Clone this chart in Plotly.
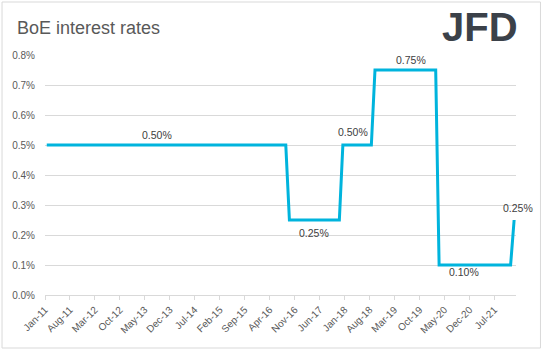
import pandas as pd
import plotly.graph_objects as go

# ---- data ----
change_months = ["2011-01", "2016-08", "2016-09", "2017-11", "2017-12", "2018-08",
                 "2018-09", "2020-02", "2020-03", "2021-11", "2021-12"]
rates = [0.50, 0.50, 0.25, 0.25, 0.50, 0.50, 0.75, 0.75, 0.10, 0.10, 0.25]

tick_labels = ["Jan-11", "Aug-11", "Mar-12", "Oct-12", "May-13", "Dec-13", "Jul-14",
               "Feb-15", "Sep-15", "Apr-16", "Nov-16", "Jun-17", "Jan-18", "Aug-18",
               "Mar-19", "Oct-19", "May-20", "Dec-20", "Jul-21"]

label_months = ["2013-08", "2017-04", "2018-03", "2019-07", "2020-10", "2021-12"]
label_values = [0.50, 0.25, 0.50, 0.75, 0.10, 0.25]

# ---- styling ----
label_yshift = [10, -13, 13, 10, -7, 12]
label_xshift = [0, 0, 0, 0, 0, 4]

W, H = 544, 351
L, R, T, B = 45, 27.5, 55, 56
PW, PH = W - L - R, H - T - B

def px_x(px):
    return (px - L) / PW

def px_y(py):
    return (H - B - py) / PH

mid = pd.Timedelta(days=15)
x_line = pd.to_datetime(change_months) + mid
x_labels = pd.to_datetime(label_months) + mid
tick_vals = pd.date_range("2011-01-01", periods=len(tick_labels), freq="7MS")

fig = go.Figure()
fig.add_trace(go.Scatter(
    x=x_line, y=rates, mode="lines",
    line=dict(color="#00B4DD", width=3),
    hoverinfo="skip", showlegend=False,
))

for xm, v, dy, dx in zip(x_labels, label_values, label_yshift, label_xshift):
    fig.add_annotation(
        x=xm, y=v, text=f"{v:.2f}%", showarrow=False,
        yshift=dy, xshift=dx,
        font=dict(family="Liberation Sans", size=10.5, color="#404040"),
    )

# logo
fig.add_annotation(
    xref="paper", yref="paper", x=px_x(521), y=px_y(27),
    xanchor="right", yanchor="middle", showarrow=False,
    text="<b>JFD</b>",
    font=dict(family="Liberation Sans", size=40, color="#3b4149"),
)

# outer border
fig.add_shape(
    type="rect", xref="paper", yref="paper",
    x0=px_x(2), x1=px_x(541), y0=px_y(348), y1=px_y(2),
    line=dict(color="#d9d9d9", width=1), fillcolor="rgba(0,0,0,0)", layer="below",
)

fig.update_layout(
    width=W, height=H,
    margin=dict(l=L, r=R, t=T, b=B),
    paper_bgcolor="white", plot_bgcolor="white",
    title=dict(
        text="BoE interest rates", xref="container", yref="container",
        x=17 / W, xanchor="left", y=1 - 28 / H, yanchor="middle",
        font=dict(family="Liberation Sans", size=18, color="#595959"),
    ),
    xaxis=dict(
        type="date",
        range=["2011-01-01", "2022-01-01"],
        tickvals=tick_vals, ticktext=tick_labels, tickangle=-45,
        showgrid=False, zeroline=False,
        showline=True, linecolor="#d9d9d9", linewidth=1,
        ticks="outside", ticklen=4, tickcolor="#d9d9d9",
        tickfont=dict(family="Liberation Sans", size=10, color="#595959"),
    ),
    yaxis=dict(
        range=[0, 0.8], dtick=0.1, tick0=0,
        tickformat=".1f", ticksuffix="%",
        showgrid=True, gridcolor="#d9d9d9", gridwidth=1,
        zeroline=False, showline=False, ticks="",
        ticklabelstandoff=9,
        tickfont=dict(family="Liberation Sans", size=10, color="#595959"),
    ),
)

fig.write_html("out.html")
